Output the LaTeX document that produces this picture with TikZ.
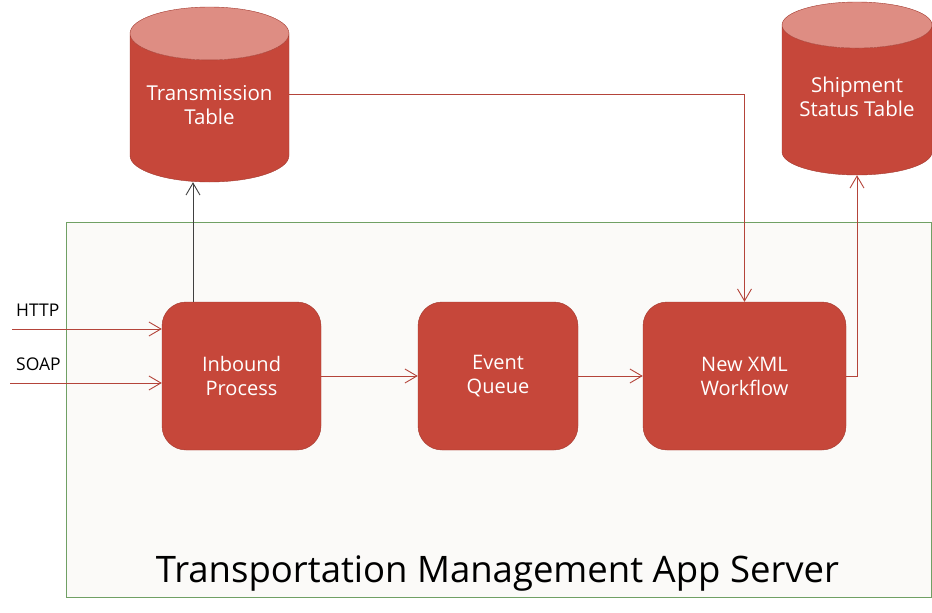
\documentclass[tikz,border=0pt]{standalone}
\usepackage{fontspec}
\setmainfont{Open Sans}
\usetikzlibrary{shapes.geometric,arrows.meta}
\definecolor{boxred}{HTML}{C6473A}
\definecolor{boxedge}{HTML}{A33A2F}
\definecolor{toppink}{HTML}{DE8D83}
\definecolor{linkred}{HTML}{B4443A}
\definecolor{srvgreen}{HTML}{70A064}
\definecolor{srvfill}{HTML}{FBFAF8}
\newcommand{\dbcaption}[1]{\raisebox{7pt}{\begin{tabular}{@{}c@{}}#1\end{tabular}}}
\tikzset{
  procbox/.style={draw=boxedge, fill=boxred, rounded corners=24pt, text=white,
    align=center, font=\fontsize{20}{24}\selectfont, inner sep=0pt},
  dbtable/.style={cylinder, shape border rotate=90, aspect=0.42, draw=boxedge,
    cylinder uses custom fill, cylinder body fill=boxred, cylinder end fill=toppink,
    text=white, font=\fontsize{20.5}{24}\selectfont, inner sep=0pt,
    anchor=shape center},
  link/.style={draw=linkred, line width=0.9pt, -{Straight Barb[length=12pt,width=14pt]}},
  feedlink/.style={link, draw=black!75},
  proto/.style={font=\fontsize{17.5}{20}\selectfont, anchor=base west, inner sep=0pt},
}
\begin{document}
\begin{tikzpicture}[x=1pt,y=-1pt]
\useasboundingbox (0,0) rectangle (932,613);

% app server
\node[draw=srvgreen, fill=srvfill, minimum width=865pt, minimum height=375pt, inner sep=0pt] (server) at (498.5,409.5) {};
\node[font=\fontsize{36.5}{40}\selectfont, anchor=base] (serverlabel) at (497.5,582) {Transportation Management App Server};

% tables
\node[dbtable, minimum width=159pt, minimum height=175pt] (trans) at (209.5,94.5) {\dbcaption{Transmission\\Table}};
\node[dbtable, minimum width=150pt, minimum height=173pt, aspect=0.4] (ship) at (857,88.5) {\dbcaption{Shipment\\Status Table}};

% processes
\node[procbox, minimum width=159pt, minimum height=148pt] (inbound) at (241.5,376) {Inbound\\Process};
\node[procbox, minimum width=160pt, minimum height=148pt] (queue) at (498,376) {Event\\Queue};
\node[procbox, minimum width=203pt, minimum height=148pt] (workflow) at (744.5,376) {New XML\\Workflow};

% protocols
\node[proto] (http) at (16,316) {HTTP};
\node[proto] (soap) at (16,370) {SOAP};
\coordinate (httpin) at (12,329);
\coordinate (soapin) at (10,383);
\coordinate (feed) at (193,0);

\draw[link] (httpin) -- (inbound.west |- httpin);
\draw[link] (soapin) -- (inbound.west |- soapin);
\draw[feedlink] (inbound.north -| feed) -- (trans.south -| feed);
\draw[link] (inbound) -- (queue);
\draw[link] (queue) -- (workflow);
\draw[link] (trans.east |- trans.shape center) -| (workflow.north);
\draw[link] (workflow.east) -| (ship.south);
\end{tikzpicture}
\end{document}
